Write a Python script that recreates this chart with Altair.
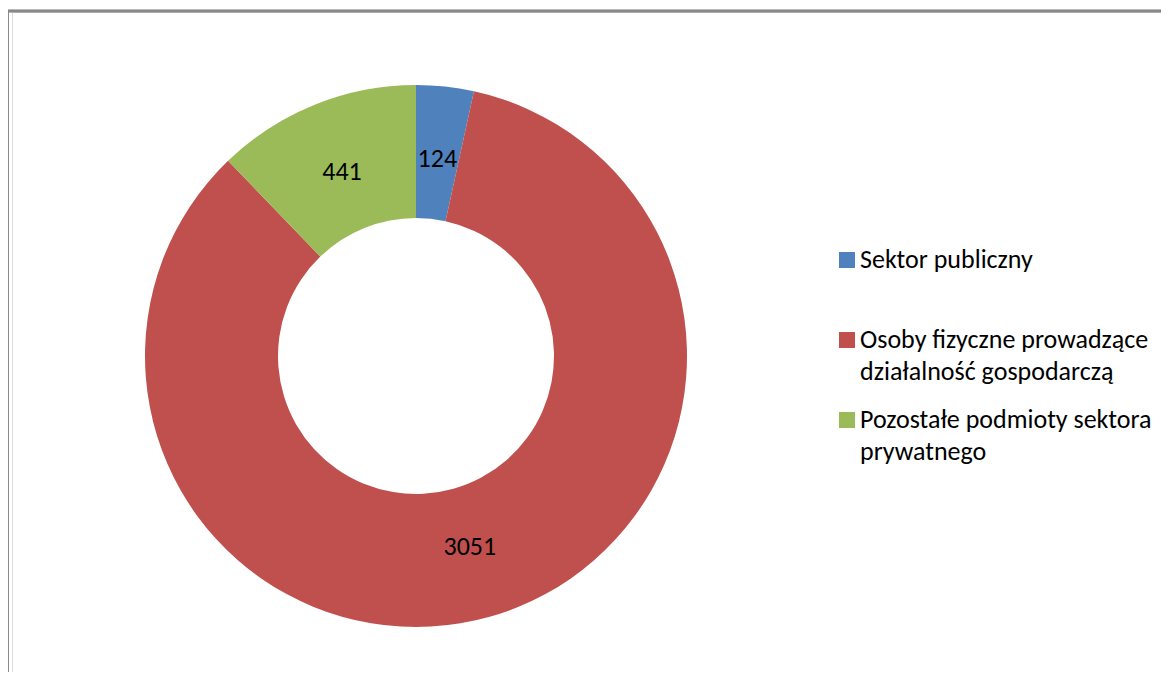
import altair as alt
import pandas as pd

categories = [
    "Sektor publiczny",
    "Osoby fizyczne prowadzące\ndziałalność gospodarczą",
    "Pozostałe podmioty sektora\nprywatnego",
]
values = [124, 3051, 441]
colors = ["#4F81BD", "#C0504D", "#9BBB59"]

df = pd.DataFrame({"kat": categories, "val": values, "idx": list(range(len(values)))})

FONT = "Calibri, Carlito, Lato"

base = alt.Chart(df).encode(
    theta=alt.Theta("val:Q", stack=True),
    order=alt.Order("idx:Q"),
)

arcs = base.mark_arc(innerRadius=138, outerRadius=271).encode(
    x=alt.value(404),
    y=alt.value(344),
    color=alt.Color(
        "kat:N",
        scale=alt.Scale(domain=categories, range=colors),
        legend=alt.Legend(
            title=None,
            orient="none",
            legendX=822,
            legendY=235,
            symbolType="square",
            symbolSize=256,
            symbolStrokeWidth=0,
            labelFont=FONT,
            labelFontSize=26,
            labelColor="#000000",
            labelOffset=0,
            labelLimit=400,
            rowPadding=22,
            labelExpr="length(split(datum.label, '\\n')) > 1 ? split(datum.label, '\\n') : [datum.label, ' ']",
            padding=0,
        ),
    ),
)

labels = base.mark_text(radius=198, font=FONT, fontSize=26, color="#000000").encode(
    x=alt.value(404),
    y=alt.value(344),
    text=alt.Text("val:Q"),
)

frame_top = alt.Chart(df).mark_rule(color="#888888", strokeWidth=2.5).encode(
    x=alt.value(-4.5), x2=alt.value(1200), y=alt.value(-1)
)
frame_left = alt.Chart(df).mark_rule(color="#888888", strokeWidth=2.5).encode(
    x=alt.value(-4.5), y=alt.value(-1), y2=alt.value(700)
)

chart = (
    alt.layer(frame_top, frame_left, arcs, labels)
    .properties(
        width=1149,
        height=660,
        padding={"left": 4, "top": 4, "right": 0, "bottom": 0},
        autosize=alt.AutoSizeParams(type="none"),
    )
    .configure_view(stroke=None)
    .configure(background="white", style={"guide-label": {"lineHeight": 32}})
)

chart.save("out.html", embed_options={"renderer": "svg", "actions": False})
